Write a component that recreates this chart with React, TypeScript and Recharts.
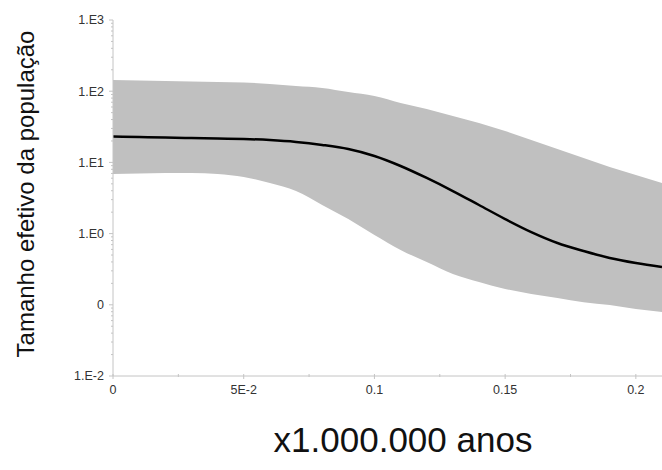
import { Area, ComposedChart, Label, Line, XAxis, YAxis } from "recharts";

// time in millions of years
const years = [
  0, 0.01, 0.02, 0.03, 0.04, 0.05, 0.06, 0.07, 0.08, 0.09, 0.1, 0.11, 0.12,
  0.13, 0.14, 0.15, 0.16, 0.17, 0.18, 0.19, 0.2, 0.21,
];
const median = [
  23.1, 22.7, 22.4, 22.0, 21.7, 21.3, 20.6, 19.4, 17.6, 15.4, 12.3, 8.9, 6.04,
  3.96, 2.52, 1.6, 1.05, 0.738, 0.57, 0.454, 0.386, 0.34,
];
const lower = [
  6.87, 6.98, 7.1, 7.1, 6.87, 6.24, 5.14, 3.96, 2.52, 1.6, 0.955, 0.589, 0.399,
  0.271, 0.209, 0.167, 0.142, 0.125, 0.109, 0.099, 0.087, 0.079,
];
const upper = [
  143.7, 141.3, 139, 136.8, 134.6, 132.5, 126.2, 118.3, 110.9, 97.4, 85.6, 68.3,
  56.2, 44.8, 35.8, 27.6, 20.6, 15.4, 11.5, 8.6, 6.65, 5.14,
];

const yTicks = [0.01, 0.1, 1, 10, 100, 1000];
const yTickLabels = ["1.E-2", "0", "1.E0", "1.E1", "1.E2", "1.E3"];
const xTicks = [0, 0.05, 0.1, 0.15, 0.2];
const xTickLabels = ["0", "5E-2", "0.1", "0.15", "0.2"];
const xMinor = [0.025, 0.075, 0.125, 0.175];

const yMinor = yTicks
  .slice(0, -1)
  .flatMap((d) => [2, 3, 4, 5, 6, 7, 8, 9].map((m) => +(m * d).toPrecision(2)));

const data = years.map((x, i) => ({
  x,
  median: median[i],
  band: [lower[i], upper[i]],
}));

const axisColor = "#c4c4c4";
const font = "'Liberation Sans', Arial, sans-serif";

function YTick({ x, y, payload }: any) {
  const i = yTicks.indexOf(payload.value);
  const major = i >= 0;
  return (
    <g>
      <line x1={x - (major ? 4 : 2)} x2={x} y1={y} y2={y} stroke={axisColor} />
      {major && (
        <text
          x={x - 9}
          y={y}
          dy="0.35em"
          textAnchor="end"
          fontSize={12.5}
          fill="#333"
          fontFamily={font}
        >
          {yTickLabels[i]}
        </text>
      )}
    </g>
  );
}

function XTick({ x, y, payload }: any) {
  const i = xTicks.indexOf(payload.value);
  const major = i >= 0;
  return (
    <g>
      <line x1={x} x2={x} y1={y - 2} y2={y + (major ? 3 : 1)} stroke={axisColor} />
      {major && (
        <text
          x={x}
          y={y + 14}
          dy="0.35em"
          textAnchor="middle"
          fontSize={12.5}
          fill="#333"
          fontFamily={font}
        >
          {xTickLabels[i]}
        </text>
      )}
    </g>
  );
}

export default function App() {
  return (
    <div style={{ position: "absolute", left: 0, top: 0, background: "#fff" }}>
      <ComposedChart
        width={662}
        height={470}
        data={data}
        margin={{ top: 20, right: 0, bottom: 0, left: 0 }}
      >
        <XAxis
          dataKey="x"
          type="number"
          domain={[0, 0.21]}
          ticks={[...xTicks, ...xMinor].sort((a, b) => a - b)}
          interval={0}
          allowDataOverflow
          height={94}
          stroke={axisColor}
          tickLine={false}
          tickSize={0}
          tickMargin={0}
          tick={<XTick />}
        >
          <Label
            content={() => (
              <text
                x={403}
                y={452}
                textAnchor="middle"
                fontSize={35}
                fill="#111"
                fontFamily={font}
              >
                x1.000.000 anos
              </text>
            )}
          />
        </XAxis>
        <YAxis
          scale="log"
          type="number"
          domain={[0.01, 1000]}
          ticks={[...yTicks, ...yMinor].sort((a, b) => a - b)}
          interval={0}
          allowDataOverflow
          width={113}
          stroke={axisColor}
          tickLine={false}
          tickSize={0}
          tickMargin={0}
          tick={<YTick />}
        >
          <Label
            content={() => (
              <text
                x={25}
                y={194}
                transform="rotate(-90 25 194)"
                textAnchor="middle"
                dominantBaseline="central"
                fontSize={24}
                fill="#111"
                fontFamily={font}
              >
                Tamanho efetivo da população
              </text>
            )}
          />
        </YAxis>
        <Area
          type="monotone"
          dataKey="band"
          stroke="none"
          fill="#c0c0c0"
          fillOpacity={1}
          isAnimationActive={false}
        />
        <Line
          type="monotone"
          dataKey="median"
          stroke="#000"
          strokeWidth={2.5}
          dot={false}
          isAnimationActive={false}
        />
      </ComposedChart>
    </div>
  );
}
